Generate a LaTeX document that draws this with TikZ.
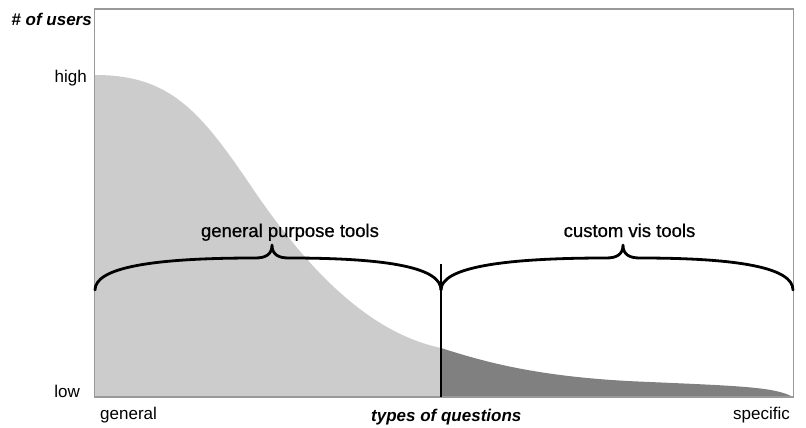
\documentclass[tikz,border=0pt]{standalone}
\usepackage{fontspec}
\setmainfont{Liberation Sans}
\newfontfamily\medfont{Liberation Sans}[FakeBold=0.7]
\begin{document}
\begin{tikzpicture}[x=1pt,y=-1pt,
  lbl/.style={inner sep=0pt,font=\fontsize{17}{20}\selectfont},
  axlbl/.style={inner sep=0pt,font=\fontsize{17}{20}\selectfont\bfseries\itshape},
  brlbl/.style={inner sep=0pt,font=\medfont\fontsize{18.5}{22}\selectfont},
  bracestyle/.style={line width=2.8pt,line cap=round,line join=round},
  frame/.style={draw=black!40,line width=1.3pt}]
\useasboundingbox (0,0) rectangle (806,428);
\definecolor{lightg}{HTML}{CCCCCC}
\definecolor{darkg}{HTML}{808080}
% areas
\fill[lightg] (95,397) -- (95,75) .. controls (170,75) and (200,110) .. (255,192)
  .. controls (310,272) and (370,333) .. (441,348) -- (441,397) -- cycle;
\fill[darkg] (441,397) -- (441,348) .. controls (485,362) and (540,378) .. (650,382)
  .. controls (740,386) and (775,387) .. (793,397) -- cycle;
% frame
\draw[frame] (94.5,9) rectangle (793.5,397);
% divider
\coordinate (divtop) at (441,264);
\coordinate (divbot) at (441,397);
\draw[line width=1.3pt] (divtop) -- (divbot);
% braces
\draw[bracestyle] (95,290) .. controls (95,268) and (150,258) .. (255,258)
  .. controls (265,258) and (272,255) .. (272,245)
  .. controls (272,255) and (279,258) .. (289,258)
  .. controls (390,258) and (441,268) .. (441,290);
\draw[bracestyle] (441,290) .. controls (441,268) and (500,258) .. (606,258)
  .. controls (616,258) and (623,255) .. (623,245)
  .. controls (623,255) and (630,258) .. (640,258)
  .. controls (740,258) and (793,268) .. (793,290);
% labels
\node[brlbl,anchor=base] (gpt) at (290,237) {general purpose tools};
\node[brlbl,anchor=base] (cvt) at (629.5,237) {custom vis tools};
\node[axlbl,anchor=base east] (yax) at (92,26) {\# of users};
\node[lbl,anchor=base east] (high) at (87,83) {high};
\node[lbl,anchor=base east] (low) at (80,397) {low};
\node[lbl,anchor=base west] (gen) at (100,419) {general};
\node[lbl,anchor=base east] (spec) at (790,419) {specific};
\node[axlbl,anchor=base west] (xax) at (371,421) {types of questions};
\end{tikzpicture}
\end{document}
